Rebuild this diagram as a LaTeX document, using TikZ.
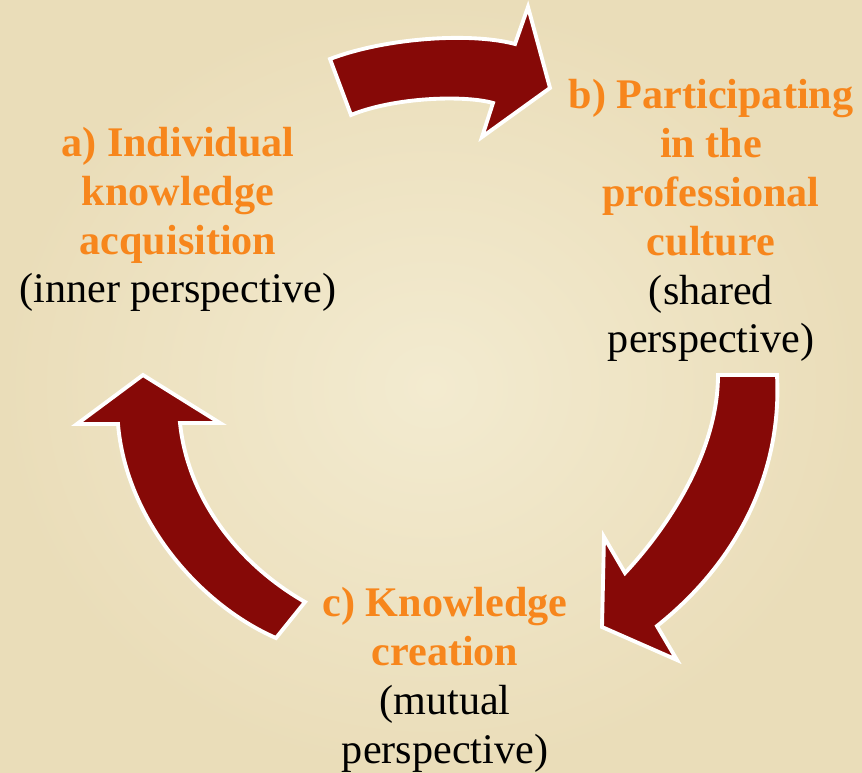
\documentclass[tikz,border=0pt]{standalone}
\usepackage{fontspec}
\setmainfont{Liberation Serif}
\usepackage{tikz}

\definecolor{arrowred}{HTML}{860907}
\definecolor{stageorange}{HTML}{F7861C}
\definecolor{parchin}{HTML}{F3EBD0}
\definecolor{parchout}{HTML}{EADDB9}

\newcommand{\stage}[1]{\textcolor{stageorange}{\bfseries #1}}

\tikzset{
  cyclearrow/.style={fill=arrowred, draw=white, line width=2.2pt, line join=miter},
  stagetext/.style={align=center, inner sep=0pt, anchor=base,
    font=\fontsize{24pt}{27.8pt}\selectfont}
}

\begin{document}
\begin{tikzpicture}[x=0.02cm,y=-0.02cm]
                \useasboundingbox (0,0) rectangle (862,773);
                \shade[inner color=parchin, outer color=parchout] (0,0) rectangle (862,773);

                % a -> b
                \draw[cyclearrow] (330,59) .. controls (385,38) and (470,32) .. (515,44)
                    -- (528,7) -- (550,88) -- (482,137) -- (493,103)
                    .. controls (465,95) and (395,97) .. (351,115) -- cycle;
                % b -> c
                \draw[cyclearrow] (718,375) -- (777,375)
                    .. controls (782,470) and (740,560) .. (657,626)
                    -- (677,660) -- (602,627) -- (604,537) -- (625,573)
                    .. controls (670,525) and (718,450) .. (718,375) -- cycle;
                % c -> a
                \draw[cyclearrow] (276,638) .. controls (200,605) and (126,520) .. (118,424)
                    -- (77,424) -- (143,375) -- (220,423) -- (180,423)
                    .. controls (188,500) and (240,565) .. (305,602) -- cycle;

                % base = last line
                \node[stagetext] (acq) at (178,303)
                    {\stage{a) Individual}\\ \stage{knowledge}\\ \stage{acquisition}\\ (inner perspective)};
                \node[stagetext] (part) at (711,353)
                    {\stage{b) Participating}\\ \stage{in the}\\ \stage{professional}\\ \stage{culture}\\ (shared\\ perspective)};
                \node[stagetext] (crea) at (445,763)
                    {\stage{c) Knowledge}\\ \stage{creation}\\ (mutual\\ perspective)};
            \end{tikzpicture}
\end{document}
